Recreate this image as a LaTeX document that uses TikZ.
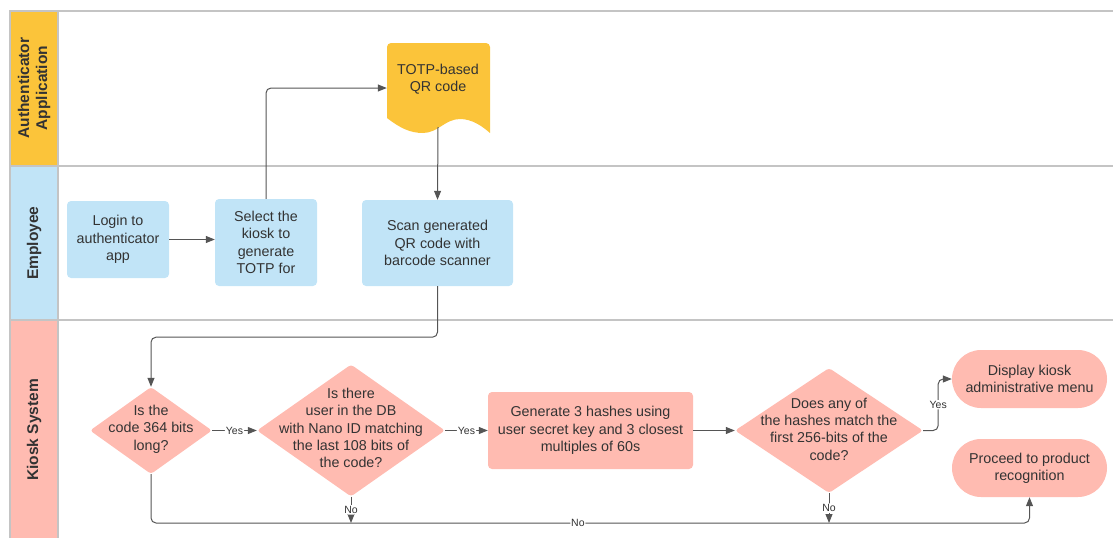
\documentclass[tikz,border=0pt]{standalone}
\usepackage{fontspec}
\setmainfont{Liberation Sans}
\usetikzlibrary{shapes.geometric,arrows.meta}
\definecolor{ylw}{HTML}{FBC43A}
\definecolor{blu}{HTML}{C1E4F7}
\definecolor{pnk}{HTML}{FFBBB1}
\definecolor{lanegrey}{HTML}{C4C4C4}
\definecolor{ink}{HTML}{333333}
\definecolor{conn}{HTML}{555555}
\begin{document}
\begin{tikzpicture}[x=1pt,y=-1pt,
  txt/.style={font=\fontsize{14.3}{17.3}\selectfont, text=ink, align=center},
  box/.style={txt, rounded corners=4pt, inner sep=0pt},
  bluebox/.style={box, fill=blu},
  pinkbox/.style={box, fill=pnk},
  diam/.style={diamond, fill=pnk, rounded corners=3pt, inner sep=0pt},
  stad/.style={txt, fill=pnk, rounded corners=29pt, minimum width=155pt, minimum height=58pt, inner sep=0pt},
  hdr/.style={font=\bfseries\fontsize{15.5}{18}\selectfont, text=ink, align=center, rotate=90},
  arr/.style={draw=conn, line width=1pt, rounded corners=5pt, -{Triangle[length=9pt,width=7pt]}},
  lbl/.style={font=\fontsize{10.5}{12}\selectfont, text=ink, fill=white, inner sep=1pt},
  laneline/.style={draw=lanegrey, line width=1.3pt}
]
\useasboundingbox (0,0) rectangle (1113,538);
% lane headers
\fill[ylw] (10,11) rectangle (58,166);
\fill[blu] (10,166) rectangle (58,320);
\fill[pnk] (10,320) rectangle (58,538);
\draw[laneline] (1113,11) -- (10,11) -- (10,538);
\draw[laneline] (58,11) -- (58,538);
\draw[laneline] (10,166) -- (1113,166);
\draw[laneline] (10,320) -- (1113,320);
\node[hdr] (h1) at (34,88) {Authenticator\\Application};
\node[hdr] (h2) at (34,243) {Employee};
\node[hdr] (h3) at (34,430) {Kiosk System};

% document shape
\fill[ylw] (387,118) [rounded corners=4pt] -- (387,43) -- (490,43) [sharp corners] -- (490,133)
  .. controls (482,126) and (472,119) .. (460,119)
  .. controls (445,119) and (438,133) .. (423,133)
  .. controls (410,133) and (400,128) .. (387,118) -- cycle;
\node[minimum width=103pt, minimum height=90pt, inner sep=0pt] (qr) at (438.5,88) {};
\node[txt] (qrt) at (438,79) {TOTP-based\\QR code};
\coordinate (qrb) at (438,127);

% employee lane
\node[bluebox, minimum width=102pt, minimum height=77pt] (login) at (118,239.5) {Login to\\authenticator\\app};
\node[bluebox, minimum width=102pt, minimum height=87pt] (select) at (266,242.5) {Select the\\kiosk to\\generate\\TOTP for};
\node[bluebox, minimum width=151pt, minimum height=86pt] (scan) at (437.5,243) {Scan generated\\QR code with\\barcode scanner};

% kiosk lane
\node[diam, minimum width=122pt, minimum height=87pt] (d1) at (151,430.5) {};
\node[txt] (d1t) at (151,429) {Is the\\code 364 bits\\long?};
\node[diam, minimum width=188pt, minimum height=132pt] (d2) at (351,430.5) {};
\node[txt] (d2t) at (351,428) {Is there\\user in the DB\\with Nano ID matching\\the last 108 bits of\\the code?};
\node[pinkbox, minimum width=205pt, minimum height=77pt] (gen) at (590.5,430.5) {Generate 3 hashes using\\user secret key and 3 closest\\multiples of 60s};
\node[diam, minimum width=188pt, minimum height=125pt] (d3) at (829,430.5) {};
\node[txt] (d3t) at (829,429) {Does any of\\the hashes match the\\first 256-bits of the\\code?};
\node[stad] (display) at (1029.5,379) {Display kiosk\\administrative menu};
\node[stad] (proceed) at (1029.5,468) {Proceed to product\\recognition};
\coordinate (lowline) at (0,523);

% connectors
\draw[arr] (login.east) -- (select.west |- login.east);
\draw[arr] (select.north) |- (qr.west);
\draw[arr] (qrb) -- (scan.north);
\draw[arr] (scan.south) -- ++(0,51) -| (d1.north);
\draw[arr] (d1.east) -- node[lbl] (y1) {Yes} (d2.west);
\draw[arr] (d2.east) -- node[lbl] (y2) {Yes} (gen.west);
\draw[arr] (gen.east) -- (d3.west);
\draw[arr] (d3.east) -- ++(15,0) |- node[lbl, pos=0.25] (y3) {Yes} (display.west);
\draw[arr] (d1.south) |- node[lbl, pos=0.743] (no1) {No} (proceed.south |- lowline) -- (proceed.south);
\draw[arr] (d2.south) -- node[lbl] (no2) {No} (d2.south |- lowline);
\draw[arr] (d3.south) -- node[lbl] (no3) {No} (d3.south |- lowline);
\end{tikzpicture}
\end{document}
